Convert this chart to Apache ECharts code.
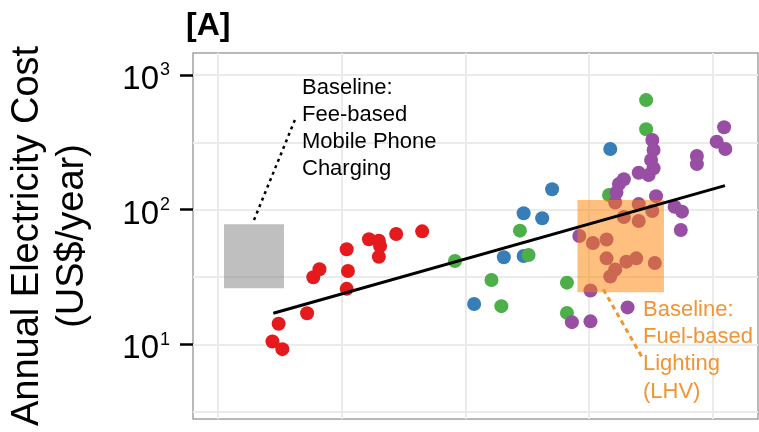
<!DOCTYPE html>
<html><head><meta charset="utf-8">
<script src="https://cdn.jsdelivr.net/npm/echarts@6/dist/echarts.min.js"></script>
<style>html,body{margin:0;padding:0;background:#fff}#c{width:759px;height:432px}</style>
</head><body><div id="c"></div>
<script>
// ---- data (x: position along the unlabeled horizontal axis, y: US$/year) ----
const redPoints = [[1.44, 10.5], [1.52, 9.2], [1.49, 14.2], [1.72, 17.0], [1.77, 31.5], [1.82, 36.1],
  [2.04, 50.8], [2.05, 35.0], [2.04, 25.8], [2.22, 60.3], [2.30, 58.8], [2.31, 53.7], [2.30, 44.7],
  [2.44, 65.9], [2.65, 69.0]];
const bluePoints = [[3.07, 19.9], [3.31, 44.3], [3.47, 45.3], [3.47, 94.0], [3.62, 86.3], [3.70, 141.6], [4.17, 281.8]];
const greenPoints = [[2.915, 41.6], [3.21, 30.0], [3.29, 19.2], [3.44, 69.8], [3.51, 46.0], [3.82, 28.7],
  [3.82, 17.1], [4.16, 128.5], [4.46, 651], [4.46, 395]];
const purplePoints = [[5.09, 409], [5.03, 320], [5.10, 282], [4.87, 250], [4.87, 218], [4.51, 329], [4.52, 277],
  [4.50, 234], [4.52, 203], [4.48, 181], [4.40, 188], [4.28, 168], [4.24, 155], [4.22, 134], [4.54, 126],
  [4.69, 105], [4.75, 96.6], [4.74, 70.6], [3.92, 63.7], [4.21, 113], [4.40, 110], [4.28, 88.2], [4.40, 82.4],
  [4.51, 97.7], [4.03, 56.5], [4.14, 60.0], [4.14, 43.5], [4.30, 41.1], [4.38, 43.5], [4.53, 40.2],
  [4.21, 35.9], [4.17, 31.9], [4.01, 25.1], [4.31, 18.8], [3.86, 14.6], [4.01, 14.8]];
const fitLine = [[1.447, 17.0], [5.097, 150.7]];
const mobileBaseline = [1.0485, 1.533, 26.1, 77.8];   // x0, x1, y0, y1
const fuelBaseline = [3.905, 4.604, 24.3, 118];        // x0, x1, y0, y1
const mobileLeader = [[1.291, 83.8], [1.630, 485]];
const fuelLeader = [[4.114, 25.6], [4.432, 7.87]];
const xRange = [0.798, 5.364];
const yRange = [2.787, 1457];
const xGridValues = [1, 2, 3, 4, 5];
const yTickExponents = [1, 2, 3];
const yGridExponents = [0.5, 1, 1.5, 2, 2.5, 3];
const mobileLabel = 'Baseline:\nFee-based\nMobile Phone\nCharging';
const fuelLabel = 'Baseline:\nFuel-based\nLighting\n(LHV)';
const yTitle = 'Annual Electricity Cost\n(US$/year)';
const panelTitle = '[A]';

// ---- chart ----
const FONT = '"Liberation Sans", Arial, Helvetica, sans-serif';
const ORANGE = '#F29433';
const logMin = Math.log10(yRange[0]), logMax = Math.log10(yRange[1]);
const chart = echarts.init(document.getElementById('c'), null, { renderer: 'canvas' });

function rectSeries(rect, color, z) {
  return {
    type: 'custom', z: z, silent: true, xAxisIndex: 0, yAxisIndex: 0,
    data: [rect],
    renderItem: function (params, api) {
      const p0 = api.coord([api.value(0), api.value(3)]);
      const p1 = api.coord([api.value(1), api.value(2)]);
      return { type: 'rect', shape: { x: p0[0], y: p0[1], width: p1[0] - p0[0], height: p1[1] - p0[1] },
        style: { fill: color } };
    }
  };
}
function scatter(data, color) {
  return { type: 'scatter', data: data, symbolSize: 14, z: 2, silent: true,
    itemStyle: { color: color, opacity: 1 } };
}

chart.setOption({
  animation: false,
  grid: { left: 193, right: 1, top: 53, bottom: 13, show: true, borderColor: '#a3a3a3', borderWidth: 1.5,
    backgroundColor: '#fff' },
  xAxis: {
    type: 'value', min: xRange[0], max: xRange[1],
    axisLine: { show: false }, axisLabel: { show: false },
    axisTick: { show: false, customValues: xGridValues },
    splitLine: { show: true, lineStyle: { color: '#ebebeb', width: 2 } }
  },
  yAxis: [
    { type: 'log', logBase: 10, min: yRange[0], max: yRange[1], show: false },
    { type: 'value', min: logMin, max: logMax, position: 'left',
      axisLine: { show: false }, splitLine: { show: false },
      axisTick: { show: true, customValues: yTickExponents, length: 13, lineStyle: { color: '#000', width: 2.5 } },
      axisLabel: { customValues: yTickExponents, margin: 23, padding: [10, 0, 0, 0],
        formatter: function (v) { return '{b|10}{s|' + Math.round(v) + '}'; },
        rich: {
          b: { fontSize: 33, fontFamily: FONT, color: '#000' },
          s: { fontSize: 18, fontFamily: FONT, color: '#000', padding: [0, 0, 19, 1] }
        } } },
    { type: 'value', min: logMin, max: logMax, position: 'left',
      axisLine: { show: false }, axisLabel: { show: false },
      axisTick: { show: false, customValues: yGridExponents },
      splitLine: { show: true, lineStyle: { color: '#ebebeb', width: 2 } } }
  ],
  series: [
    rectSeries(mobileBaseline, 'rgba(128,128,128,0.5)', 1),
    scatter(redPoints, '#E41A1C'),
    scatter(bluePoints, '#377EB8'),
    scatter(greenPoints, '#4DAF4A'),
    scatter(purplePoints, '#984EA3'),
    rectSeries(fuelBaseline, 'rgba(255,127,0,0.5)', 3),
    { type: 'line', data: fitLine, symbol: 'none', z: 5, silent: true,
      lineStyle: { color: '#000', width: 3 } },
    { type: 'line', data: mobileLeader, symbol: 'none', z: 5, silent: true,
      lineStyle: { color: '#000', width: 2.5, type: [3, 4] } },
    { type: 'line', data: fuelLeader, symbol: 'none', z: 5, silent: true,
      lineStyle: { color: ORANGE, width: 3, type: [5, 4] } }
  ],
  graphic: [
    { type: 'text', x: 186, y: 26, style: { text: panelTitle, fontSize: 32, fontWeight: 'bold', fontFamily: FONT,
      fill: '#000', verticalAlign: 'middle' } },
    { type: 'text', x: 50, y: 236, rotation: Math.PI / 2, style: { text: yTitle, fontSize: 38, fontFamily: FONT,
      fill: '#000', align: 'center', verticalAlign: 'middle', lineHeight: 45 } },
    { type: 'text', x: 302, y: 74, z: 10, style: { text: mobileLabel, fontSize: 22, fontFamily: FONT, fill: '#000',
      verticalAlign: 'top', lineHeight: 27 } },
    { type: 'text', x: 643, y: 296, z: 10, style: { text: fuelLabel, fontSize: 22, fontFamily: FONT, fill: ORANGE,
      verticalAlign: 'top', lineHeight: 27.3 } }
  ]
});
</script>
</body></html>
